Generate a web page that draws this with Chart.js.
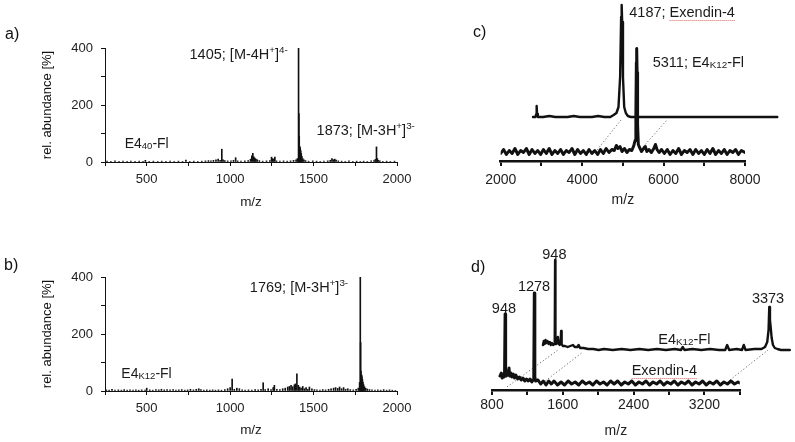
<!DOCTYPE html>
<html>
<head>
<meta charset="utf-8">
<title>MS spectra</title>
<script src="https://cdn.jsdelivr.net/npm/chart.js@4.4.1/dist/chart.umd.min.js"></script>
<style>
  html, body { margin: 0; padding: 0; background: #fff; }
  body { position: relative; width: 795px; height: 442px; overflow: hidden; font-family: "Liberation Sans", Arial, sans-serif; }
  canvas { position: absolute; }
  .tag { position: absolute; font-size: 16px; line-height: 19px; color: #111; }
</style>
</head>
<body>
<canvas id="chartA" width="420" height="220" style="left:0;top:0"></canvas>
<canvas id="chartB" width="420" height="222" style="left:0;top:220px"></canvas>
<canvas id="chartC" width="395" height="220" style="left:400px;top:0"></canvas>
<canvas id="chartD" width="395" height="222" style="left:400px;top:220px"></canvas>
<div class="tag" style="left:5px;top:24px">a)</div>
<div class="tag" style="left:4px;top:255px">b)</div>
<div class="tag" style="left:473px;top:22px">c)</div>
<div class="tag" style="left:471px;top:257px">d)</div>
<script>
// ---- a) E4(40)-Fl, ESI spectrum (sticks)
const mzA = [262, 285, 310, 334, 358, 383, 405, 430, 455, 478, 492, 515, 540, 566, 590, 615, 640, 665, 690, 715,
  735, 758, 782, 806, 830, 852, 870, 885, 900, 915, 928, 940, 950, 958, 968, 985, 1005, 1020, 1033, 1045,
  1065, 1088, 1108, 1122, 1130, 1136, 1142, 1148, 1154, 1162, 1175, 1195, 1218, 1238, 1248, 1254, 1262, 1268, 1278, 1298,
  1320, 1342, 1362, 1380, 1395, 1403, 1410, 1412, 1414, 1416, 1418, 1420, 1423, 1426, 1430, 1435, 1442, 1452, 1470, 1495,
  1518, 1540, 1562, 1585, 1600, 1610, 1618, 1627, 1635, 1648, 1668, 1690, 1712, 1735, 1758, 1780, 1800, 1822, 1845, 1862,
  1870, 1877, 1882, 1888, 1897, 1915, 1938, 1960, 1985];
const abA = [3, 2, 4, 2, 3, 2, 3, 2, 3, 2, 6, 2, 3, 2, 3, 2, 3, 2, 3, 2,
  7, 2, 3, 2, 3, 4, 5, 4, 6, 8, 10, 6, 45, 8, 5, 4, 4, 6, 15, 4,
  3, 4, 5, 10, 22, 30, 18, 14, 10, 8, 5, 3, 4, 5, 17, 12, 10, 17, 4, 3,
  4, 3, 4, 6, 8, 12, 400, 170, 90, 55, 52, 48, 40, 30, 20, 12, 8, 5, 3, 4,
  3, 2, 3, 4, 6, 12, 8, 10, 7, 4, 3, 2, 4, 2, 3, 2, 3, 2, 4, 5,
  9, 53, 12, 6, 4, 2, 3, 2, 3];

// ---- b) E4(K12)-Fl, ESI spectrum (sticks)
const mzB = [258, 275, 292, 310, 330, 348, 365, 383, 400, 418, 435, 452, 470, 490, 500, 518, 536, 555, 572, 588,
  605, 622, 640, 658, 675, 692, 710, 728, 745, 762, 780, 797, 812, 825, 842, 860, 878, 895, 912, 930,
  948, 968, 985, 1000, 1012, 1025, 1040, 1055, 1072, 1090, 1110, 1130, 1150, 1168, 1185, 1198, 1210, 1228, 1245, 1258,
  1265, 1280, 1298, 1315, 1330, 1345, 1355, 1365, 1375, 1385, 1392, 1400, 1408, 1416, 1425, 1435, 1445, 1455, 1465, 1475,
  1490, 1505, 1520, 1538, 1555, 1572, 1590, 1605, 1620, 1632, 1645, 1656, 1668, 1680, 1692, 1705, 1720, 1738, 1755, 1768,
  1776, 1780, 1782, 1784, 1786, 1788, 1790, 1793, 1796, 1800, 1805, 1812, 1822, 1835, 1850, 1868, 1885, 1902, 1920, 1938,
  1955, 1972, 1990];
const abB = [4, 3, 6, 3, 4, 3, 5, 3, 4, 3, 4, 3, 4, 3, 10, 4, 3, 5, 4, 6,
  4, 5, 4, 5, 3, 4, 5, 3, 4, 6, 4, 6, 8, 5, 3, 4, 3, 4, 3, 4,
  3, 5, 8, 12, 42, 6, 10, 8, 4, 3, 4, 3, 5, 4, 6, 29, 5, 8, 5, 12,
  20, 6, 5, 8, 10, 14, 16, 20, 15, 22, 25, 60, 20, 14, 10, 16, 8, 12, 6, 14,
  8, 5, 4, 3, 5, 4, 6, 8, 10, 12, 9, 14, 8, 12, 6, 8, 5, 4, 6, 10,
  30, 400, 170, 70, 58, 55, 50, 40, 30, 22, 15, 10, 7, 5, 4, 3, 4, 3, 5, 3,
  4, 3, 2];

// ---- c) MALDI: lower trace E4(K12)-Fl, upper (offset) trace Exendin-4
const cLowMz = [2000, 2070, 2140, 2210, 2280, 2350, 2420, 2490, 2560, 2630, 2700, 2770, 2840, 2910, 2980, 3050, 3120, 3190, 3260, 3330,
  3400, 3470, 3540, 3610, 3680, 3750, 3820, 3890, 3960, 4030, 4100, 4170, 4240, 4310, 4380, 4450, 4520, 4590, 4660, 4730,
  4790, 4840, 4880, 4930, 4980, 5040, 5100, 5160, 5220, 5270, 5300, 5320, 5332, 5340, 5350, 5362, 5380, 5410, 5460, 5510,
  5550, 5590, 5640, 5700, 5760, 5800, 5840, 5890, 5950, 6020, 6090, 6160, 6230, 6300, 6370, 6440, 6510, 6580, 6650, 6720,
  6790, 6860, 6930, 7000, 7070, 7140, 7210, 7280, 7350, 7420, 7490, 7560, 7630, 7700, 7770, 7840, 7910, 8000];
const cLowAb = [1, 5, 0, 4, 1, 6, 0, 4, 2, 6, 0, 5, 1, 4, 0, 5, 1, 6, 0, 4,
  1, 5, 0, 4, 2, 6, 0, 5, 1, 4, 0, 5, 1, 4, 0, 5, 1, 6, 2, 5,
  4, 9, 6, 8, 3, 6, 2, 5, 4, 9, 14, 40, 92, 106, 82, 30, 10, 7, 3, 6,
  8, 3, 5, 2, 6, 10, 5, 2, 5, 1, 5, 0, 4, 1, 6, 0, 4, 2, 5, 0,
  5, 1, 4, 0, 5, 1, 6, 0, 4, 1, 5, 0, 4, 2, 5, 0, 4, 2];
const cUpMz = [2000, 2060, 2080, 2090, 2100, 2120, 2250, 2400, 2550, 2700, 2850, 3000, 3150, 3300, 3450, 3600, 3750, 3900, 3980, 4050,
  4100, 4140, 4165, 4178, 4190, 4210, 4240, 4280, 4330, 4400, 4600, 5000, 5400, 6000, 7000, 8000];
const cUpAb = [0, 0, 3, 11, 3, 0, 0, 1, 0, 0, 0, 1, 0, 0, 0, 1, 0, 0, 2, 4,
  10, 40, 100, 112, 95, 40, 10, 4, 1, 0, 0, 0, 0, 0, 0, 0];
// perspective guide lines (lower-trace units)
const cGuide1 = [[4365, 4.5], [4954, 34.5]];
const cGuide2 = [[5494, 7.5], [6084, 34.5]];

// ---- d) MALDI: lower trace Exendin-4, upper (offset) trace E4(K12)-Fl
const dLowMz = [890, 905, 915, 925, 935, 942, 948, 954, 962, 972, 982, 992, 1000, 1012, 1025, 1040, 1055, 1070, 1090, 1110,
  1130, 1150, 1170, 1190, 1210, 1230, 1250, 1265, 1272, 1278, 1284, 1292, 1320, 1350, 1380, 1410, 1440, 1470, 1500, 1540,
  1580, 1620, 1660, 1700, 1740, 1780, 1820, 1860, 1900, 1940, 1980, 2020, 2060, 2100, 2140, 2180, 2220, 2260, 2300, 2340,
  2380, 2420, 2460, 2500, 2540, 2580, 2620, 2660, 2700, 2740, 2780, 2820, 2860, 2900, 2940, 2980, 3020, 3060, 3100, 3140,
  3180, 3220, 3260, 3300, 3340, 3380, 3420, 3460, 3500, 3540, 3580, 3600];
const dLowAb = [9, 12, 7, 10, 8, 13, 71, 11, 9, 14, 10, 17, 9, 12, 8, 11, 7, 10, 6, 8,
  5, 7, 4, 6, 4, 6, 3, 5, 9, 92, 8, 4, 5, 1, 4, 0, 4, 1, 4, 0,
  3, 0, 4, 1, 3, 0, 4, 1, 3, 0, 4, 1, 3, 0, 4, 1, 4, 0, 3, 1,
  4, 0, 3, 1, 4, 0, 3, 1, 4, 0, 3, 1, 4, 0, 3, 1, 4, 0, 3, 1,
  4, 0, 3, 1, 4, 0, 3, 1, 4, 1, 3, 2];
const dUpMz = [811, 820, 830, 840, 850, 862, 875, 888, 900, 912, 925, 938, 944, 948, 952, 960, 970, 979, 988, 1000,
  1010, 1016, 1022, 1035, 1060, 1090, 1120, 1150, 1170, 1200, 1214, 1230, 1270, 1320, 1380, 1440, 1500, 1600, 1700, 1800,
  1900, 2000, 2100, 2200, 2300, 2370, 2391, 2410, 2500, 2600, 2700, 2800, 2870, 2892, 2915, 3000, 3060, 3080, 3100, 3200,
  3280, 3320, 3345, 3360, 3368, 3376, 3385, 3395, 3410, 3430, 3460, 3500, 3600];
const dUpAb = [5, 9, 6, 10, 7, 9, 6, 8, 5, 7, 5, 6, 10, 90, 12, 6, 8, 13, 6, 5,
  7, 19, 6, 4, 4, 3, 4, 5, 3, 3, 5, 2, 2, 1, 1, 0, 1, 0, 1, 0,
  1, 0, 1, 0, 1, 0, 3, 0, 1, 0, 1, 0, 0, 5, 0, 1, 0, 5, 0, 1,
  1, 3, 8, 20, 43, 30, 22, 12, 5, 2, 1, 0, 0];
const dGuide1 = [[969, -2], [1546, 35]];
const dGuide2 = [[1342, 0], [1828, 33]];
const dGuide3 = [[3489, 5], [3919, 35]];

const FONT = '"Liberation Sans", Arial, sans-serif';
const INK = '#111';
Chart.defaults.font.family = FONT;
Chart.defaults.color = '#222';
Chart.defaults.animation = false;
Chart.defaults.plugins.legend.display = false;
Chart.defaults.plugins.tooltip.enabled = false;

const pts = (xs, ys) => xs.map((x, i) => ({ x: x, y: ys[i] }));
const seg = p => p.map(([x, y]) => ({ x: x, y: y }));

// peak annotations with sub/superscripts, anchored in data units
function labelPlugin(items) {
  return {
    id: 'peakLabels',
    afterDatasetsDraw(chart) {
      const ctx = chart.ctx;
      ctx.save();
      ctx.fillStyle = '#1a1a1a';
      ctx.textBaseline = 'alphabetic';
      items.forEach(it => {
        const px = chart.scales[it.xs || 'x'].getPixelForValue(it.x);
        const py = chart.scales[it.ys || 'y'].getPixelForValue(it.y);
        const size = it.size || 14.5;
        const fontOf = k => (k ? size * 0.68 : size) + 'px ' + FONT;
        let w = 0;
        it.parts.forEach(([t, k]) => { ctx.font = fontOf(k); w += ctx.measureText(t).width; });
        let cx = it.align === 'right' ? px - w : it.align === 'center' ? px - w / 2 : px;
        it.parts.forEach(([t, k, squiggle]) => {
          ctx.font = fontOf(k);
          const dy = k === 'sup' ? -size * 0.42 : k === 'sub' ? size * 0.08 : 0;
          ctx.fillText(t, cx, py + dy);
          const tw = ctx.measureText(t).width;
          if (squiggle) {
            ctx.save();
            ctx.strokeStyle = '#e06060';
            ctx.lineWidth = 1;
            ctx.setLineDash([1, 1]);
            ctx.beginPath();
            ctx.moveTo(cx, py + 3.5);
            ctx.lineTo(cx + tw, py + 3.5);
            ctx.stroke();
            ctx.restore();
          }
          cx += tw;
        });
      });
      ctx.restore();
    }
  };
}

function stickPanel(id, mz, ab, labels, box) {
  new Chart(document.getElementById(id), {
    type: 'bar',
    data: {
      datasets: [{ data: pts(mz, ab), backgroundColor: INK, barThickness: 1, grouped: false }]
    },
    options: {
      responsive: false,
      layout: { padding: { top: box.top, right: box.right, left: 0, bottom: 0 } },
      scales: {
        x: {
          type: 'linear', min: 250, max: 2000, offset: false,
          ticks: { stepSize: 250, autoSkip: false, maxRotation: 0, padding: 6, font: { size: 13 },
                   callback: v => v % 500 === 0 ? v : '' },
          grid: { offset: false, drawOnChartArea: false, tickLength: 4, color: INK },
          border: { color: INK, width: 1 },
          title: { display: true, text: 'm/z', font: { size: 13.5 }, padding: { top: 0, bottom: box.titlePad } },
          afterFit: s => { s.height = box.xh; }
        },
        y: {
          min: 0, max: 400,
          ticks: { stepSize: 100, padding: 8, font: { size: 13 }, callback: v => v % 200 === 0 ? v : '' },
          grid: { drawOnChartArea: false, tickLength: 4, color: INK },
          border: { color: INK, width: 1 },
          title: { display: true, text: 'rel. abundance [%]', color: '#111', font: { size: 13 }, padding: { top: 40, bottom: 0 } },
          afterFit: s => { s.width = 105; }
        }
      }
    },
    plugins: [labelPlugin(labels)]
  });
}

function tracePanel(id, cfg) {
  const line = (data, extra) => Object.assign({
    data: data, borderColor: INK, borderWidth: 3, pointRadius: 0, tension: 0,
    borderJoinStyle: 'round', borderCapStyle: 'round', fill: false
  }, extra || {});
  const guide = p => ({
    data: seg(p), borderColor: '#6a6a6a', borderWidth: 1, borderDash: [1.2, 2.2],
    pointRadius: 0, fill: false, clip: false
  });
  new Chart(document.getElementById(id), {
    type: 'line',
    data: {
      datasets: [
        line(cfg.lower),
        line(cfg.upper, { xAxisID: 'x2', yAxisID: 'y2', clip: false, borderWidth: 2.4 })
      ].concat(cfg.guides.map(guide))
    },
    options: {
      responsive: false,
      layout: { padding: cfg.pad },
      scales: {
        x: {
          type: 'linear', min: cfg.x[0], max: cfg.x[1],
          ticks: { stepSize: cfg.step, autoSkip: false, maxRotation: 0, padding: cfg.tickPad, font: { size: 14 },
                   callback: v => v % cfg.labelStep === 0 ? v : '' },
          grid: { drawOnChartArea: false, tickLength: 5, color: INK, lineWidth: 2 },
          border: { color: INK, width: 2.5 },
          title: { display: true, text: 'm/z', font: { size: 14 }, padding: { top: 0, bottom: cfg.titlePad } },
          afterFit: s => { s.height = cfg.xh; }
        },
        y: { display: false, min: cfg.y[0], max: cfg.y[1] },
        // offset axis of the shifted trace: range set after data limits so the
        // part running past the right edge is still drawn
        x2: { type: 'linear', display: false, bounds: 'data',
              afterDataLimits: s => { s.min = cfg.x2[0]; s.max = cfg.x2[1]; } },
        y2: { type: 'linear', display: false, min: cfg.y2[0], max: cfg.y2[1] }
      }
    },
    plugins: [labelPlugin(cfg.labels)]
  });
}

stickPanel('chartA', mzA, abA, [
  { x: 1346, y: 361, align: 'right', parts: [['1405; [M-4H'], ['+', 'sup'], [']'], ['4-', 'sup']] },
  { x: 1518, y: 95, parts: [['1873; [M-3H'], ['+', 'sup'], [']'], ['3-', 'sup']] },
  { x: 368, y: 48, size: 14, parts: [['E4'], ['40', 'sub'], ['-Fl']] }
], { top: 48, right: 23, xh: 58, titlePad: 10 });

stickPanel('chartB', mzB, abB, [
  { x: 1118, y: 348, parts: [['1769; [M-3H'], ['+', 'sup'], [']'], ['3-', 'sup']] },
  { x: 348, y: 45, size: 14, parts: [['E4'], ['K12', 'sub'], ['-Fl']] }
], { top: 57, right: 23, xh: 51, titlePad: 3.5 });

tracePanel('chartC', {
  lower: pts(cLowMz, cLowAb), upper: pts(cUpMz, cUpAb),
  guides: [cGuide1, cGuide2],
  pad: { left: 100.7, right: 50, top: 0, bottom: 0 },
  x: [2000, 8000], step: 1000, labelStep: 2000, y: [-6.5, 154.5],
  x2: [1207, 7207], y2: [-44, 117],
  xh: 59, tickPad: 5.6, titlePad: 11.6,
  labels: [
    { xs: 'x2', ys: 'y2', x: 4365, y: 100, parts: [['4187; '], ['Exendin-4', null, true]] },
    { x: 5733, y: 88, parts: [['5311; E4'], ['K12', 'sub'], ['-Fl']] }
  ]
});

tracePanel('chartD', {
  lower: pts(dLowMz, dLowAb), upper: pts(dUpMz, dUpAb),
  guides: [dGuide1, dGuide2, dGuide3],
  pad: { left: 92, right: 55.2, top: 0, bottom: 0 },
  x: [800, 3600], step: 400, labelStep: 800, y: [-5, 165],
  x2: [235, 3035], y2: [-40, 130],
  xh: 52, tickPad: 1.6, titlePad: 2.6,
  labels: [
    { x: 935, y: 72, align: 'center', parts: [['948']] },
    { x: 1275, y: 94, align: 'center', parts: [['1278']] },
    { xs: 'x2', ys: 'y2', x: 940, y: 91, align: 'center', parts: [['948']] },
    { xs: 'x2', ys: 'y2', x: 3354, y: 47, align: 'center', parts: [['3373']] },
    { xs: 'x2', ys: 'y2', x: 2114, y: 6, parts: [['E4'], ['K12', 'sub'], ['-Fl']] },
    { x: 2378, y: 10, parts: [['Exendin-4', null, true]] }
  ]
});
</script>
</body>
</html>
